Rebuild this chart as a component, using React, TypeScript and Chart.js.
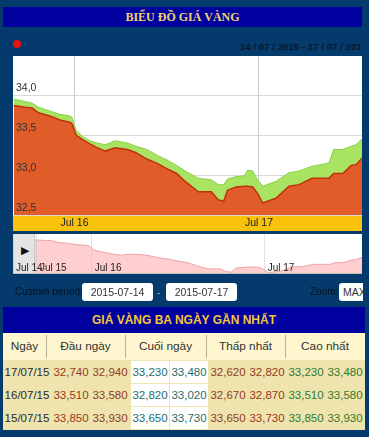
import React, { useEffect, useRef } from "react";
import { Chart, registerables } from "chart.js";

Chart.register(...registerables);

// ---- data ----
// hours since 15/07/2015 00:00
const hours = [16.1, 17.6, 18.5, 19.3, 20.8, 22.1, 23.4, 23.7, 24.2, 25.1, 26.0, 27.0, 28.0, 29.3, 30.9, 32.0, 33.4, 34.7, 36.0, 37.3, 38.4, 40.1, 41.8, 42.7, 43.4, 43.9, 45.0, 46.1, 46.5, 47.2, 47.8, 48.5, 49.3, 50.2, 51.9, 53.2, 54.9, 57.1, 57.7, 58.9, 60.0, 60.6, 61.5];
const buyPrices = [33.87, 33.85, 33.84, 33.78, 33.74, 33.69, 33.66, 33.64, 33.5, 33.44, 33.39, 33.34, 33.3, 33.34, 33.32, 33.28, 33.2, 33.15, 33.08, 33.02, 32.92, 32.79, 32.79, 32.69, 32.67, 32.81, 32.85, 32.86, 32.86, 32.85, 32.77, 32.65, 32.68, 32.71, 32.86, 32.88, 32.96, 32.96, 33.02, 33.02, 33.12, 33.13, 33.22];
const sellPrices = [33.95, 33.92, 33.9, 33.85, 33.8, 33.76, 33.74, 33.72, 33.56, 33.48, 33.43, 33.4, 33.38, 33.43, 33.4, 33.36, 33.32, 33.25, 33.19, 33.12, 33.05, 32.96, 32.94, 32.88, 32.88, 32.95, 32.98, 32.99, 33.06, 33.05, 32.94, 32.86, 32.89, 32.92, 33.03, 33.05, 33.11, 33.15, 33.32, 33.32, 33.36, 33.38, 33.46];

const mainTickHours = [24, 48];
const mainTickLabels = ["Jul 16", "Jul 17"];
const yTickValues = [32.5, 33.0, 33.5, 34.0];
const navTickHours = [13.07, 16.4, 24, 48];
const navTickLabels = ["Jul 14", "Jul 15", "Jul 16", "Jul 17"];

const tableHeaders = ["Ngày", "Đầu ngày", "Cuối ngày", "Thấp nhất", "Cao nhất"];
const tableDates = ["17/07/15", "16/07/15", "15/07/15"];
const tableOpen = [["32,740", "32,940"], ["33,510", "33,580"], ["33,850", "33,930"]];
const tableClose = [["33,230", "33,480"], ["32,820", "33,020"], ["33,650", "33,730"]];
const tableLow = [["32,620", "32,820"], ["32,670", "32,870"], ["33,650", "33,730"]];
const tableHigh = [["33,230", "33,480"], ["33,510", "33,580"], ["33,850", "33,930"]];

const FONT = "'Liberation Sans', Arial, sans-serif";

const bgPlugin = {
  id: "bgPlugin",
  beforeDraw(chart: any) {
    const { ctx, chartArea: a, scales } = chart;
    ctx.save();
    ctx.fillStyle = "#ffffff";
    ctx.fillRect(a.left, a.top, a.right - a.left, a.bottom - a.top);
    const x = scales.x;
    ctx.fillStyle = "#f9c20c";
    ctx.fillRect(a.left, x.top, a.right - a.left, x.bottom - x.top);
    ctx.restore();
  },
};

function MainChart() {
  const ref = useRef<HTMLCanvasElement>(null);
  useEffect(() => {
    const chart = new Chart(ref.current as HTMLCanvasElement, {
      type: "line",
      data: {
        datasets: [
          {
            data: hours.map((h, i) => ({ x: h, y: buyPrices[i] })),
            borderColor: "#bf300e",
            backgroundColor: "#e05c29",
            fill: "start",
            borderWidth: 1.5,
          },
          {
            data: hours.map((h, i) => ({ x: h, y: sellPrices[i] })),
            borderColor: "#88d24a",
            backgroundColor: "#a8e462",
            fill: "start",
            borderWidth: 1,
          },
        ],
      },
      options: {
        animation: false,
        responsive: false,
        maintainAspectRatio: false,
        layout: { padding: 0 },
        plugins: { legend: { display: false }, tooltip: { enabled: false } },
        elements: { point: { radius: 0 }, line: { tension: 0 } },
        scales: {
          x: {
            type: "linear",
            min: 16,
            max: 61.4,
            afterBuildTicks: (s: any) => {
              s.ticks = mainTickHours.map((v) => ({ value: v }));
            },
            afterFit: (s: any) => {
              s.height = 16;
              s.paddingLeft = 0;
              s.paddingRight = 0;
            },
            ticks: {
              autoSkip: false,
              maxRotation: 0,
              padding: 2,
              color: "#222222",
              font: { family: FONT, size: 10.5 },
              callback: (_v: any, i: number) => mainTickLabels[i],
            },
            grid: { color: "#cfcfcf", drawTicks: false },
            border: { display: false },
          },
          y: {
            position: "left",
            min: 32.5,
            max: 34.49,
            afterBuildTicks: (s: any) => {
              s.ticks = yTickValues.map((v) => ({ value: v }));
            },
            afterFit: (s: any) => {
              s.width = 0;
              s.paddingTop = 0;
              s.paddingBottom = 0;
            },
            ticks: {
              z: 1,
              mirror: true,
              padding: 3,
              labelOffset: -7,
              color: "#333333",
              font: { family: FONT, size: 10.5 },
              callback: (v: any) => Number(v).toFixed(1).replace(".", ","),
            },
            grid: { color: "#d8d8d8", drawTicks: false },
            border: { display: false },
          },
        },
      } as any,
      plugins: [bgPlugin],
    });
    return () => chart.destroy();
  }, []);
  return <canvas ref={ref} width={349} height={175} style={{ position: "absolute", left: 13, top: 56, width: 349, height: 175 }} />;
}

function NavChart() {
  const ref = useRef<HTMLCanvasElement>(null);
  useEffect(() => {
    const chart = new Chart(ref.current as HTMLCanvasElement, {
      type: "line",
      data: {
        datasets: [
          {
            data: hours.map((h, i) => ({ x: h, y: buyPrices[i] })),
            borderColor: "#eba3a3",
            backgroundColor: "#ffcfcf",
            fill: "start",
            borderWidth: 1,
          },
        ],
      },
      options: {
        animation: false,
        responsive: false,
        maintainAspectRatio: false,
        layout: { padding: 0 },
        plugins: { legend: { display: false }, tooltip: { enabled: false } },
        elements: { point: { radius: 0 }, line: { tension: 0 } },
        scales: {
          x: {
            type: "linear",
            min: 13.07,
            max: 61.5,
            afterBuildTicks: (s: any) => {
              s.ticks = navTickHours.map((v) => ({ value: v }));
            },
            afterFit: (s: any) => {
              s.height = 0;
              s.paddingLeft = 0;
              s.paddingRight = 0;
            },
            ticks: {
              z: 1,
              autoSkip: false,
              maxRotation: 0,
              mirror: true,
              align: "start",
              labelOffset: 3,
              padding: 0,
              color: "#222222",
              font: { family: FONT, size: 10 },
              callback: (_v: any, i: number) => navTickLabels[i],
            },
            grid: { z: 1, color: "rgba(190,190,190,0.45)", drawTicks: false },
            border: { display: false },
          },
          y: { display: false, min: 32.6, max: 34.09 },
        },
      } as any,
    });
    return () => chart.destroy();
  }, []);
  return <canvas ref={ref} width={349} height={40} style={{ position: "absolute", left: 13, top: 234, width: 349, height: 40 }} />;
}

const abs = (l: number, t: number, w: number, h: number, extra: any = {}) => ({
  position: "absolute" as const,
  left: l,
  top: t,
  width: w,
  height: h,
  ...extra,
});

const cellLefts = [52, 91, 131, 170, 209, 248, 287, 326];
const headerBounds = [3, 46, 125, 206, 285, 365];

export default function App() {
  const rowTops = [361, 384, 407];
  const colColors = ["#953a1c", "#953a1c", "#1f6d6d", "#1f6d6d", "#953a1c", "#953a1c", "#2f7a2f", "#2f7a2f"];
  return (
    <div style={{ position: "fixed", left: 0, top: 0, width: 369, height: 437, background: "#053a6c", overflow: "hidden", fontFamily: FONT }}>
      {/* title */}
      <div style={abs(3, 7, 359, 20, { background: "#00009e", color: "#f2d272", fontFamily: "'Liberation Serif', 'Times New Roman', serif", fontWeight: "bold", fontSize: 12, lineHeight: "20px", textAlign: "center" })}>
        BIỂU ĐỒ GIÁ VÀNG
      </div>
      <div style={abs(13, 40, 8, 8, { borderRadius: "50%", background: "#ee1111" })} />
      <div style={abs(240, 40, 121, 14, { overflow: "hidden", whiteSpace: "nowrap", color: "#0c1628", fontSize: 9.7, fontWeight: "bold", lineHeight: "14px" })}>
        14 / 07 / 2015 - 17 / 07 / 2015
      </div>

      <MainChart />

      {/* navigator */}
      <div style={abs(13, 234, 349, 40, { background: "#ffffff" })} />
      <div style={abs(13, 234, 22, 40, { background: "#e4e4e4", borderRight: "1px solid #c8c8c8", boxSizing: "border-box" })} />
      <div style={abs(21, 243, 12, 14, { color: "#111", fontSize: 11, lineHeight: "14px" })}>▶</div>
      <NavChart />
      <div style={abs(13, 273, 349, 1, { background: "#c0c0c0" })} />

      {/* custom period */}
      <div style={abs(15, 284, 70, 16, { color: "#07101e", fontSize: 10, lineHeight: "16px", whiteSpace: "nowrap" })}>Custom period:</div>
      <div style={abs(82, 283, 71, 18, { background: "#fff", borderRadius: 3, color: "#333", fontSize: 10.5, lineHeight: "18px", textAlign: "center" })}>2015-07-14</div>
      <div style={abs(157, 283, 8, 18, { color: "#9ab0c8", fontSize: 11, lineHeight: "18px" })}>-</div>
      <div style={abs(166, 283, 71, 18, { background: "#fff", borderRadius: 3, color: "#333", fontSize: 10.5, lineHeight: "18px", textAlign: "center" })}>2015-07-17</div>
      <div style={abs(310, 284, 30, 16, { color: "#07101e", fontSize: 10, lineHeight: "16px" })}>Zoom:</div>
      <div style={abs(339, 283, 24, 18, { overflow: "hidden" })}>
        <div style={abs(0, 0, 40, 18, { background: "#fff", borderRadius: 3, color: "#333", fontSize: 10.5, lineHeight: "18px", paddingLeft: 4, whiteSpace: "nowrap" })}>MAX</div>
      </div>

      {/* table */}
      <div style={abs(3, 307, 362, 26, { background: "#00009e", color: "#f3c63a", fontWeight: "bold", fontSize: 12, lineHeight: "26px", textAlign: "center" })}>
        GIÁ VÀNG BA NGÀY GẦN NHẤT
      </div>
      <div style={abs(3, 333, 362, 27, { background: "#fdf6cf" })} />
      {tableHeaders.map((h, i) => (
        <div key={h} style={abs(headerBounds[i], 333, headerBounds[i + 1] - headerBounds[i], 27, { color: "#333", fontSize: 11.8, lineHeight: "27px", textAlign: "center", whiteSpace: "nowrap" })}>
          {h}
        </div>
      ))}
      {headerBounds.slice(1, 5).map((x) => (
        <div key={x} style={abs(x, 335, 1, 23, { background: "#b9b195" })} />
      ))}
      <div style={abs(3, 360, 362, 70, { background: "#efe4ae" })} />
      {tableDates.map((d, r) => {
        const vals = [...tableOpen[r], ...tableClose[r], ...tableLow[r], ...tableHigh[r]];
        return (
          <React.Fragment key={d}>
            <div style={abs(3, rowTops[r], 48, 22, { color: "#2a2a2a", fontSize: 11.5, lineHeight: "22px", textAlign: "center", whiteSpace: "nowrap" })}>{d}</div>
            {vals.map((v, c) => (
              <div
                key={c}
                style={abs(cellLefts[c], rowTops[r], 38, 22, {
                  background: c === 2 || c === 3 ? "#ffffff" : "transparent",
                  color: colColors[c],
                  fontSize: 11.5,
                  lineHeight: "22px",
                  textAlign: "center",
                  whiteSpace: "nowrap",
                })}
              >
                {v}
              </div>
            ))}
          </React.Fragment>
        );
      })}
    </div>
  );
}
